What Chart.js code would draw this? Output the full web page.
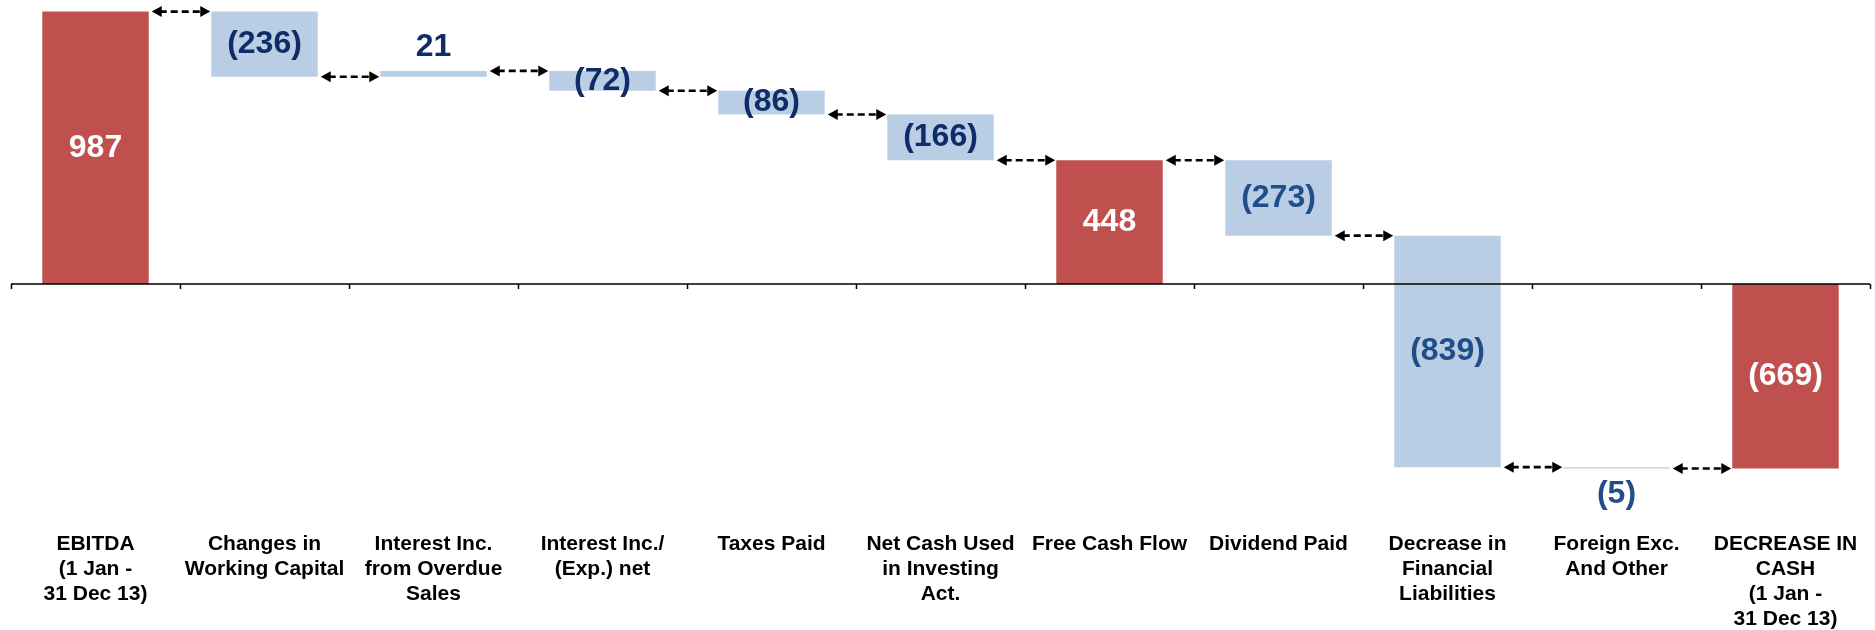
<!DOCTYPE html>
<html>
<head>
<meta charset="utf-8">
<script src="https://cdn.jsdelivr.net/npm/chart.js@4.4.1/dist/chart.umd.min.js"></script>
<style>
  html, body { margin: 0; padding: 0; background: #fff; }
  #wrap { width: 1875px; height: 630px; position: relative; }
</style>
</head>
<body>
<div id="wrap"><canvas id="bridge"></canvas></div>
<script>
// Cash flow bridge, 1 Jan - 31 Dec 13
const categories = [
  ['EBITDA', '(1 Jan -', '31 Dec 13)'],
  ['Changes in', 'Working Capital'],
  ['Interest Inc.', 'from Overdue', 'Sales'],
  ['Interest Inc./', '(Exp.) net'],
  ['Taxes Paid'],
  ['Net Cash Used', 'in Investing', 'Act.'],
  ['Free Cash Flow'],
  ['Dividend Paid'],
  ['Decrease in', 'Financial', 'Liabilities'],
  ['Foreign Exc.', 'And Other'],
  ['DECREASE IN', 'CASH', '(1 Jan -', '31 Dec 13)']
];
const amounts  = [987, -236, 21, -72, -86, -166, 448, -273, -839, -5, -669];
const isTotal  = [true, false, false, false, false, false, true, false, false, false, true];
const yMin = -870, yMax = 1000;

const red   = '#C0504D';
const blue  = '#B9CDE5';
const navy  = '#102C68';
const steel = '#1F4E89';

// floating [from, to] ranges built from the running total
const ranges = [];
let run = 0;
amounts.forEach((v, i) => {
  if (isTotal[i]) { ranges.push([0, v]); run = v; }
  else { ranges.push([run, run + v]); run += v; }
});
const levels = ranges.map(r => r[1]);

const fmt = v => v < 0 ? '(' + Math.abs(v) + ')' : String(v);

// value labels + dashed connectors + zero axis with tick marks
const bridgePlugin = {
  id: 'bridge',
  afterDatasetsDraw(chart) {
    const { ctx, scales: { x, y } } = chart;
    const bars = chart.getDatasetMeta(0).data;
    const y0 = y.getPixelForValue(0);

    // axis line at zero
    ctx.save();
    ctx.strokeStyle = '#000';
    ctx.lineWidth = 1.5;
    ctx.beginPath();
    ctx.moveTo(x.left, y0);
    ctx.lineTo(x.right, y0);
    const step = (x.right - x.left) / categories.length;
    for (let i = 0; i <= categories.length; i++) {
      const tx = Math.round(x.left + i * step) + 0.5;
      ctx.moveTo(tx, y0);
      ctx.lineTo(tx, y0 + 5);
    }
    ctx.stroke();

    // connectors between neighbouring bars
    ctx.fillStyle = '#000';
    for (let i = 0; i < bars.length - 1; i++) {
      const ly = y.getPixelForValue(levels[i]);
      const x1 = bars[i].x + bars[i].width / 2 + 3;
      const x2 = bars[i + 1].x - bars[i + 1].width / 2 - 1;
      ctx.setLineDash([7, 4]);
      ctx.lineWidth = 2.6;
      ctx.beginPath();
      ctx.moveTo(x1 + 8, ly);
      ctx.lineTo(x2 - 8, ly);
      ctx.stroke();
      ctx.setLineDash([]);
      ctx.beginPath();
      ctx.moveTo(x1, ly); ctx.lineTo(x1 + 10, ly - 5.5); ctx.lineTo(x1 + 10, ly + 5.5); ctx.closePath();
      ctx.moveTo(x2, ly); ctx.lineTo(x2 - 10, ly - 5.5); ctx.lineTo(x2 - 10, ly + 5.5); ctx.closePath();
      ctx.fill();
    }

    // value labels
    ctx.font = 'bold 32px "Liberation Sans", Arial, sans-serif';
    ctx.textAlign = 'center';
    ctx.textBaseline = 'middle';
    bars.forEach((bar, i) => {
      const top = y.getPixelForValue(Math.max(...ranges[i]));
      const bot = y.getPixelForValue(Math.min(...ranges[i]));
      let ty = (top + bot) / 2;
      if (bot - top < 12) ty = amounts[i] > 0 ? top - 24 : bot + 26;
      if (isTotal[i]) ctx.fillStyle = '#fff';
      else ctx.fillStyle = bot <= y0 - 50 ? navy : steel;
      ctx.fillText(fmt(amounts[i]), bar.x, ty);
    });
    ctx.restore();
  }
};

new Chart(document.getElementById('bridge'), {
  type: 'bar',
  data: {
    labels: categories,
    datasets: [{
      data: ranges,
      backgroundColor: isTotal.map(t => t ? red : blue),
      borderWidth: 0,
      categoryPercentage: 1,
      barPercentage: 0.63
    }]
  },
  options: {
    responsive: true,
    maintainAspectRatio: false,
    animation: false,
    layout: { padding: { top: 8, left: 11, right: 5, bottom: -10 } },
    plugins: { legend: { display: false }, tooltip: { enabled: false } },
    scales: {
      x: {
        grid: { display: false, drawTicks: false },
        border: { display: false },
        ticks: {
          color: '#000',
          autoSkip: false,
          maxRotation: 0,
          padding: 8,
          font: { family: '"Liberation Sans", Arial, sans-serif', size: 21, weight: 'bold', lineHeight: '25px' }
        }
      },
      y: { display: false, min: yMin, max: yMax }
    }
  },
  plugins: [bridgePlugin]
});
</script>
</body>
</html>
